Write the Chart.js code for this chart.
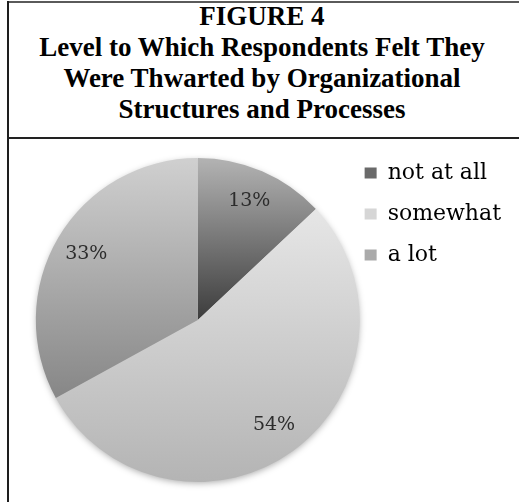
<!DOCTYPE html>
<html>
<head>
<meta charset="utf-8">
<script src="https://cdn.jsdelivr.net/npm/chart.js@4"></script>
<style>
  html, body { margin: 0; padding: 0; background: #fff; }
  body { width: 519px; height: 502px; position: relative; overflow: hidden; }
  .frame-left { position: absolute; left: 7px; top: 1px; width: 2px; height: 501px; background: #1e1e1e; }
  .frame-top { position: absolute; left: 7px; top: 1px; width: 512px; height: 2px; background: #5a5a5a; }
  .divider { position: absolute; left: 7px; top: 137px; width: 512px; height: 2px; background: #222; }
  .title {
    position: absolute; left: 9px; top: 1px; width: 506px;
    font-family: "Liberation Serif", "Times New Roman", serif;
    font-weight: bold; font-size: 27px; line-height: 31px;
    text-align: center; color: #000;
  }
  .chart-box { position: absolute; left: 9px; top: 139px; width: 510px; height: 363px; }
</style>
</head>
<body>
<div class="frame-top"></div>
<div class="frame-left"></div>
<div class="title">FIGURE 4<br>Level to Which Respondents Felt They<br>Were Thwarted by Organizational<br>Structures and Processes</div>
<div class="divider"></div>
<div class="chart-box"><canvas id="pieChart"></canvas></div>

<script>
// Chart data
const categories = ["not at all", "somewhat", "a lot"];
const percentValues = [13, 54, 33];

// Slice styling (gradient top/bottom as fraction of radius from centre)
const gradTop = [-1, -0.68, -1];
const gradBottom = [0, 1, 0.45];
const colorTop = ["#b3b3b3", "#e6e6e6", "#d0d0d0"];
const colorBottom = ["#3c3c3c", "#b4b4b4", "#888888"];
const legendColors = ["#6a6a6a", "#d6d6d6", "#aaaaaa"];

const PIE_RADIUS = 162;

/**
 * Vertical gradient for each slice, built from the arc's own centre
 */
function sliceGradient(context) {
  const chart = context.chart;
  const i = context.dataIndex;
  const area = chart.chartArea;
  if (!area) return colorTop[i];
  const cy = (area.top + area.bottom) / 2;
  const g = chart.ctx.createLinearGradient(0, cy + gradTop[i] * PIE_RADIUS, 0, cy + gradBottom[i] * PIE_RADIUS);
  g.addColorStop(0, colorTop[i]);
  g.addColorStop(1, colorBottom[i]);
  return g;
}

// Soft shadow behind the pie
const pieShadow = {
  id: "pieShadow",
  beforeDatasetsDraw(chart) {
    const arc = chart.getDatasetMeta(0).data[0];
    if (!arc) return;
    const { x, y, outerRadius } = arc.getProps(["x", "y", "outerRadius"], true);
    const ctx = chart.ctx;
    ctx.save();
    ctx.shadowColor = "rgba(0,0,0,0.35)";
    ctx.shadowBlur = 7;
    ctx.shadowOffsetY = 2;
    ctx.fillStyle = "#cccccc";
    ctx.beginPath();
    ctx.arc(x, y, outerRadius - 1, 0, Math.PI * 2);
    ctx.fill();
    ctx.restore();
  },
};

// Percent labels inside slices
const sliceLabels = {
  id: "sliceLabels",
  afterDatasetsDraw(chart) {
    const ctx = chart.ctx;
    const meta = chart.getDatasetMeta(0);
    ctx.save();
    ctx.font = '19px "DejaVu Serif", serif';
    ctx.fillStyle = "#2c2c2c";
    ctx.textAlign = "center";
    ctx.textBaseline = "middle";
    meta.data.forEach((arc, i) => {
      const p = arc.getProps(["x", "y", "startAngle", "endAngle", "outerRadius"], true);
      const mid = (p.startAngle + p.endAngle) / 2;
      const r = p.outerRadius * 0.8;
      ctx.fillText(percentValues[i] + "%", p.x + Math.cos(mid) * r, p.y + Math.sin(mid) * r);
    });
    ctx.restore();
  },
};

document.addEventListener("DOMContentLoaded", () => {
  const ctx = document.getElementById("pieChart");

  new Chart(ctx, {
    type: "pie",
    data: {
      labels: categories,
      datasets: [
        {
          data: percentValues,
          backgroundColor: sliceGradient,
          borderWidth: 0,
          radius: PIE_RADIUS,
        },
      ],
    },
    options: {
      responsive: true,
      maintainAspectRatio: false,
      animation: false,
      layout: {
        padding: { left: 41, right: 8, top: 4, bottom: 5 },
      },
      plugins: {
        tooltip: { enabled: false },
        legend: {
          position: "right",
          align: "start",
          labels: {
            boxWidth: 12,
            boxHeight: 11,
            padding: 19,
            color: "#222",
            font: { family: '"DejaVu Serif", serif', size: 22 },
            generateLabels(chart) {
              return chart.data.labels.map((label, i) => ({
                text: label,
                fillStyle: legendColors[i],
                strokeStyle: legendColors[i],
                lineWidth: 0,
                index: i,
              }));
            },
          },
        },
      },
    },
    plugins: [pieShadow, sliceLabels],
  });
});
</script>
</body>
</html>
